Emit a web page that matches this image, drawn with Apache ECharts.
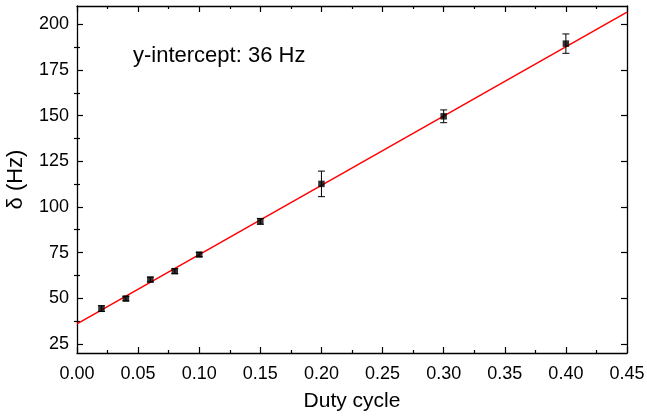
<!DOCTYPE html>
<html>
<head>
<meta charset="utf-8">
<script src="https://cdn.jsdelivr.net/npm/echarts@6/dist/echarts.min.js"></script>
<style>
html,body{margin:0;padding:0;background:#fff;}
#c{width:647px;height:416px;}
</style>
</head>
<body>
<div id="c"></div>
<script>
var dutyCycle = [0.02, 0.04, 0.06, 0.08, 0.10, 0.15, 0.20, 0.30, 0.40];
var delta     = [44.3, 49.8, 60.2, 64.8, 73.9, 92.1, 112.6, 149.6, 189.4];
var deltaErr  = [1.6, 1.2, 1.3, 1.3, 1.1, 1.6, 7.0, 3.5, 5.3];
var fitIntercept = 36;
var fitSlope = 379.3;
var fitRange = [0, 0.45];
var yTicks = [25, 50, 75, 100, 125, 150, 175, 200];
var yMinorTicks = [37.5, 62.5, 87.5, 112.5, 137.5, 162.5, 187.5];

var FONT = '"Liberation Sans", Arial, sans-serif';
var chart = echarts.init(document.getElementById('c'));

var points = dutyCycle.map(function (x, i) { return [x, delta[i]]; });
var errData = dutyCycle.map(function (x, i) { return [x, delta[i] - deltaErr[i], delta[i] + deltaErr[i]]; });
var fitLine = fitRange.map(function (x) { return [x, fitIntercept + fitSlope * x]; });

var axisLineStyle = { color: '#000', width: 1.3 };
var tickStyle = { color: '#000', width: 1.2 };
function xAx(pos, labels) {
  return {
    type: 'value', position: pos, min: 0, max: 0.45, interval: 0.05,
    axisLine: { show: true, onZero: false, lineStyle: axisLineStyle },
    axisTick: { show: true, inside: true, length: 6, lineStyle: tickStyle },
    minorTick: { show: true, splitNumber: 2, length: 3, lineStyle: tickStyle },
    splitLine: { show: false },
    axisLabel: { show: labels, color: '#000', fontSize: 18, fontFamily: FONT, margin: 12,
      formatter: function (v) { return v.toFixed(2); } },
    name: labels ? 'Duty cycle' : '', nameLocation: 'middle', nameGap: 38,
    nameTextStyle: { color: '#000', fontSize: 21, fontFamily: FONT }
  };
}
function yAx(pos, labels) {
  return {
    type: 'value', position: pos, min: 20, max: 210,
    axisLine: { show: true, onZero: false, lineStyle: axisLineStyle },
    axisTick: { show: true, inside: true, length: 6, lineStyle: tickStyle, customValues: yTicks },
    splitLine: { show: false },
    axisLabel: { show: labels, color: '#000', fontSize: 18, fontFamily: FONT, margin: 8, customValues: yTicks },
    name: labels ? 'δ (Hz)' : '', nameLocation: 'middle', nameGap: 50,
    nameTextStyle: { color: '#000', fontSize: 22, fontFamily: FONT }
  };
}
function yMinor(pos) {
  return {
    type: 'value', position: pos, min: 20, max: 210,
    axisLine: { show: false },
    axisTick: { show: true, inside: true, length: 3, lineStyle: tickStyle, customValues: yMinorTicks },
    splitLine: { show: false },
    axisLabel: { show: false }
  };
}

chart.setOption({
  animation: false,
  backgroundColor: '#fff',
  grid: { left: 77, right: 20, top: 6, bottom: 63, containLabel: false, outerBoundsMode: 'none' },
  xAxis: [xAx('bottom', true), xAx('top', false)],
  yAxis: [yAx('left', true), yAx('right', false), yMinor('left'), yMinor('right')],
  graphic: [{
    type: 'text', left: 133, top: 45,
    style: { text: 'y-intercept: 36 Hz', fill: '#000', fontSize: 22, fontFamily: FONT }
  }],
  series: [
    {
      type: 'line', data: fitLine, showSymbol: false, symbol: 'none',
      lineStyle: { color: '#ff0000', width: 1.5 }, z: 3
    },
    {
      type: 'custom', data: errData, z: 4,
      renderItem: function (params, api) {
        var x = api.value(0);
        var lo = api.coord([x, api.value(1)]);
        var hi = api.coord([x, api.value(2)]);
        var hw = 3.5;
        var st = { stroke: '#000', lineWidth: 1 };
        return {
          type: 'group',
          children: [
            { type: 'line', shape: { x1: lo[0], y1: lo[1], x2: hi[0], y2: hi[1] }, style: st },
            { type: 'line', shape: { x1: lo[0] - hw, y1: lo[1], x2: lo[0] + hw, y2: lo[1] }, style: st },
            { type: 'line', shape: { x1: hi[0] - hw, y1: hi[1], x2: hi[0] + hw, y2: hi[1] }, style: st }
          ]
        };
      }
    },
    {
      type: 'scatter', data: points, symbol: 'rect', symbolSize: 6.5, z: 5,
      itemStyle: { color: '#000' }
    }
  ]
});
</script>
</body>
</html>
